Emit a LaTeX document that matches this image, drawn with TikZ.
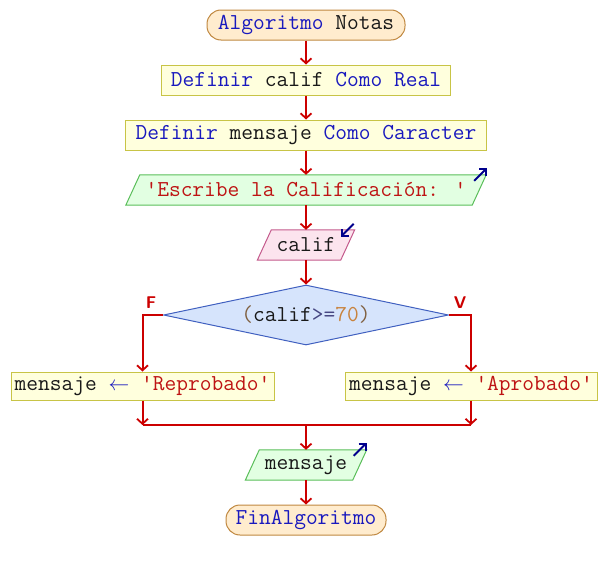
\documentclass[tikz,border=0pt]{standalone}
\usepackage{fontspec}
\usetikzlibrary{arrows.meta,shapes.geometric,backgrounds,calc}
\definecolor{kw}{RGB}{25,25,190}
\definecolor{idc}{RGB}{25,25,25}
\definecolor{strc}{RGB}{190,20,20}
\definecolor{parc}{RGB}{128,96,64}
\definecolor{opc}{RGB}{70,70,130}
\definecolor{numc}{RGB}{200,130,60}
\definecolor{linec}{RGB}{204,0,0}
\definecolor{termf}{RGB}{255,236,206}
\definecolor{termb}{RGB}{192,136,64}
\definecolor{procf}{RGB}{255,255,221}
\definecolor{procb}{RGB}{200,196,70}
\definecolor{outf}{RGB}{226,255,226}
\definecolor{outb}{RGB}{90,190,90}
\definecolor{inf}{RGB}{252,228,238}
\definecolor{inb}{RGB}{196,90,140}
\definecolor{decf}{RGB}{214,228,252}
\definecolor{decb}{RGB}{64,96,192}
\definecolor{iconc}{RGB}{0,0,140}
\begin{document}
\begin{tikzpicture}[x=1pt,y=-1pt,
  font=\ttfamily\fontsize{22.8}{24}\selectfont,
  term/.style={rectangle,rounded corners=14pt,draw=termb,fill=termf,line width=1pt,minimum height=30pt,inner sep=0pt},
  proc/.style={rectangle,draw=procb,fill=procf,line width=1pt,minimum height=30pt,inner sep=0pt},
  iobox/.style={rectangle,minimum height=30pt,inner sep=0pt},
  outshape/.style={draw=outb,fill=outf,line width=1pt},
  inshape/.style={draw=inb,fill=inf,line width=1pt},
  decision/.style={diamond,aspect=4.75,draw=decb,fill=decf,line width=1pt,minimum width=285pt,minimum height=60pt,inner sep=0pt},
  flow/.style={draw=linec,line width=2pt,-{Straight Barb[length=5pt,width=11pt,line width=1.8pt]}},
  flowline/.style={draw=linec,line width=2pt},
  icon/.style={draw=iconc,line width=2pt,-{Straight Barb[length=5pt,width=10pt,line width=2pt]}},
  branch/.style={text=linec,font=\sffamily\bfseries\fontsize{17}{17}\selectfont,inner sep=0pt}
]
\useasboundingbox (0,0) rectangle (606,570);

\node[term,minimum width=198pt] (start) at (306,25) {\color{kw}Algoritmo \color{idc}Notas};
\node[proc,minimum width=289pt] (d1) at (306,80) {\color{kw}Definir \color{idc}calif \color{kw}Como Real};
\node[proc,minimum width=361pt] (d2) at (306,135) {\color{kw}Definir \color{idc}mensaje \color{kw}Como Caracter};
\node[iobox,minimum width=360pt] (o1) at (306,190) {\color{strc}'Escribe la Calificación: '};
\node[iobox,minimum width=97pt] (i1) at (306,245) {\color{idc}calif};
\node[decision] (cond) at (306,315) {\color{parc}(\color{idc}calif\color{opc}>=\color{numc}70\color{parc})};
\node[proc,minimum width=263pt,minimum height=28pt] (left) at (142.5,386) {\color{idc}mensaje \color{kw}$\leftarrow$ \color{strc}'Reprobado'};
\node[proc,minimum width=252pt,minimum height=28pt] (right) at (471,386) {\color{idc}mensaje \color{kw}$\leftarrow$ \color{strc}'Aprobado'};
\node[iobox,minimum width=121pt] (o2) at (306,465) {\color{idc}mensaje};
\node[term,minimum width=160pt] (end) at (306,520) {\color{kw}FinAlgoritmo};

\node[branch] (lf) at (151,303) {F};
\node[branch] (lv) at (460,303) {V};

\begin{scope}[on background layer]
  \path[outshape] (o1.south west) -- ([xshift=14pt]o1.north west) -- (o1.north east) -- ([xshift=-14pt]o1.south east) -- cycle;
  \path[inshape] (i1.south west) -- ([xshift=14pt]i1.north west) -- (i1.north east) -- ([xshift=-14pt]i1.south east) -- cycle;
  \path[outshape] (o2.south west) -- ([xshift=14pt]o2.north west) -- (o2.north east) -- ([xshift=-14pt]o2.south east) -- cycle;
\end{scope}

\draw[icon] ($(o1.north east)+(-12,6)$) -- ($(o1.north east)+(1,-7)$);
\draw[icon] ($(i1.north east)+(-1,-6)$) -- ($(i1.north east)+(-14,7)$);
\draw[icon] ($(o2.north east)+(-13,6)$) -- ($(o2.north east)+(0,-7)$);

\coordinate (jl) at (142.5,425);
\coordinate (jr) at (471,425);
\coordinate (jm) at (306,425);

\draw[flow] (start) -- (d1);
\draw[flow] (d1) -- (d2);
\draw[flow] (d2.south) -- (o1.north);
\draw[flow] (o1.south) -- (i1.north);
\draw[flow] (i1.south) -- (cond.north);
\draw[flow] (cond.west) -| (left.north);
\draw[flow] (cond.east) -| (right.north);
\draw[flow] (left.south) -- (jl);
\draw[flow] (right.south) -- (jr);
\draw[flowline] (jl) -- (jr);
\draw[flow] (jm) -- (o2.north);
\draw[flow] (o2.south) -- (end.north);
\end{tikzpicture}
\end{document}
